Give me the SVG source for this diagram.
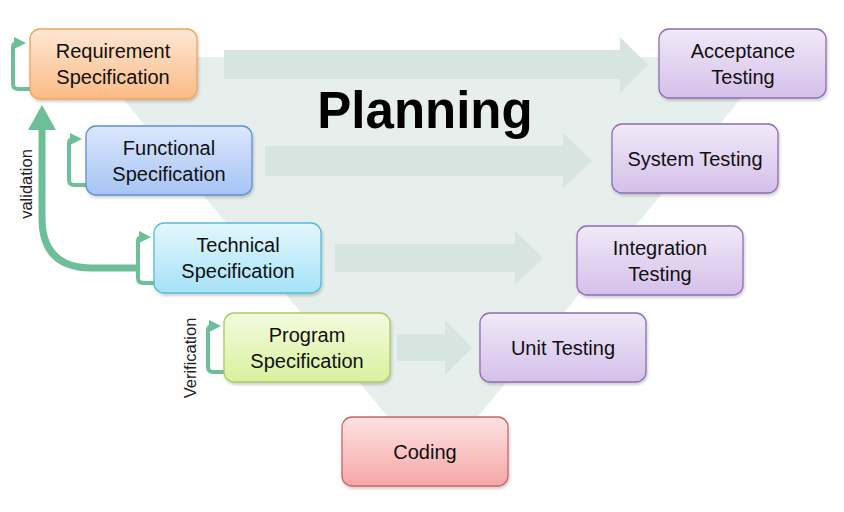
<svg xmlns="http://www.w3.org/2000/svg" width="844" height="512" viewBox="0 0 844 512">
<defs>
<style>
.t{font-family:"Liberation Sans",Arial,sans-serif;font-size:20px;fill:#111;text-anchor:middle}
.lbl{font-family:"Liberation Sans",Arial,sans-serif;font-size:16.5px;fill:#222;text-anchor:middle}
.big{fill:#d6e5e0}
.loop{fill:none;stroke:#6cbf98;stroke-width:4}
.box{stroke-width:1.3}
</style>
<linearGradient id="gOr" x1="0" y1="0" x2="0" y2="1"><stop offset="0" stop-color="#fee7d4"/><stop offset="1" stop-color="#fbbb86"/></linearGradient>
<linearGradient id="gBl" x1="0" y1="0" x2="0" y2="1"><stop offset="0" stop-color="#dbe7fc"/><stop offset="1" stop-color="#a6c4f4"/></linearGradient>
<linearGradient id="gCy" x1="0" y1="0" x2="0" y2="1"><stop offset="0" stop-color="#e4f7fd"/><stop offset="1" stop-color="#a5e2f7"/></linearGradient>
<linearGradient id="gGr" x1="0" y1="0" x2="0" y2="1"><stop offset="0" stop-color="#f4fbde"/><stop offset="1" stop-color="#d8f19e"/></linearGradient>
<linearGradient id="gRd" x1="0" y1="0" x2="0" y2="1"><stop offset="0" stop-color="#fde3e3"/><stop offset="1" stop-color="#f5a7a6"/></linearGradient>
<linearGradient id="gPu" x1="0" y1="0" x2="0" y2="1"><stop offset="0" stop-color="#f1e9f8"/><stop offset="1" stop-color="#d4c0ea"/></linearGradient>
<filter id="sh" x="-10%" y="-10%" width="125%" height="130%"><feDropShadow dx="1" dy="2" stdDeviation="1.5" flood-color="#000" flood-opacity="0.2"/></filter>
<marker id="ah" viewBox="0 0 10 10" refX="5" refY="5" markerWidth="3" markerHeight="3" orient="auto" markerUnits="strokeWidth"><path d="M0,0 L10,5 L0,10 z" fill="#6cbf98"/></marker>
</defs>
<rect width="844" height="512" fill="#fff"/>
<polygon points="88,57 775,57 433,471" fill="#e6efec"/>
<g id="connectors">
<polygon class="big" points="224,50 620,50 620,37 648,65 620,93 620,79 224,79"/>
<polygon class="big" points="265,146 563,146 563,133 592,161 563,188 563,176 265,176"/>
<polygon class="big" points="335,244 515,244 515,231 543,258 515,285 515,272 335,272"/>
<polygon class="big" points="397,334 445,334 445,320 472,348 445,375 445,361 397,361"/>
<path class="loop" d="M30,89 H18 Q13,89 13,84 V47 Q13,43 18,43 H20" marker-end="url(#ah)"/>
<path class="loop" d="M86,185 H74 Q69,185 69,180 V143 Q69,139 74,139 H76" marker-end="url(#ah)"/>
<path class="loop" d="M154,283 H143 Q138,283 138,278 V241 Q138,237 143,237 H145" marker-end="url(#ah)"/>
<path class="loop" d="M224,372 H213 Q208,372 208,367 V330 Q208,326 213,326 H215" marker-end="url(#ah)"/>
<path fill="none" stroke="#6cbf98" stroke-width="7" d="M138,268 H92 Q42,268 42,218 V126"/>
<polygon points="42,105 56,130 28,130" fill="#6cbf98"/>
<text class="lbl" transform="translate(32,184) rotate(-90)">validation</text>
<text class="lbl" transform="translate(196,358) rotate(-90)">Verification</text>
</g>
<text x="425" y="128" font-family="Liberation Sans,Arial,sans-serif" font-weight="bold" font-size="51" text-anchor="middle" fill="#000">Planning</text>
<g id="req"><rect class="box" x="30" y="29" width="167" height="70" rx="10" fill="url(#gOr)" stroke="#f0a45c" filter="url(#sh)"/><text class="t" x="113" y="58">Requirement</text><text class="t" x="113" y="84">Specification</text></g>
<g id="func"><rect class="box" x="86" y="126" width="166" height="69" rx="10" fill="url(#gBl)" stroke="#5d8fd8" filter="url(#sh)"/><text class="t" x="169" y="155">Functional</text><text class="t" x="169" y="181">Specification</text></g>
<g id="tech"><rect class="box" x="154" y="223" width="167" height="70" rx="10" fill="url(#gCy)" stroke="#56bcd9" filter="url(#sh)"/><text class="t" x="238" y="252">Technical</text><text class="t" x="238" y="278">Specification</text></g>
<g id="prog"><rect class="box" x="224" y="313" width="166" height="69" rx="10" fill="url(#gGr)" stroke="#a9cc62" filter="url(#sh)"/><text class="t" x="307" y="342">Program</text><text class="t" x="307" y="368">Specification</text></g>
<g id="coding"><rect class="box" x="342" y="417" width="166" height="69" rx="10" fill="url(#gRd)" stroke="#d06464" filter="url(#sh)"/><text class="t" x="425" y="459">Coding</text></g>
<g id="accept"><rect class="box" x="659" y="29" width="167" height="69" rx="10" fill="url(#gPu)" stroke="#8f6db2" filter="url(#sh)"/><text class="t" x="743" y="58">Acceptance</text><text class="t" x="743" y="84">Testing</text></g>
<g id="system"><rect class="box" x="612" y="124" width="166" height="69" rx="10" fill="url(#gPu)" stroke="#8f6db2" filter="url(#sh)"/><text class="t" x="695" y="166">System Testing</text></g>
<g id="integ"><rect class="box" x="577" y="226" width="166" height="69" rx="10" fill="url(#gPu)" stroke="#8f6db2" filter="url(#sh)"/><text class="t" x="660" y="255">Integration</text><text class="t" x="660" y="281">Testing</text></g>
<g id="unit"><rect class="box" x="480" y="313" width="166" height="69" rx="10" fill="url(#gPu)" stroke="#8f6db2" filter="url(#sh)"/><text class="t" x="563" y="355">Unit Testing</text></g>
</svg>
